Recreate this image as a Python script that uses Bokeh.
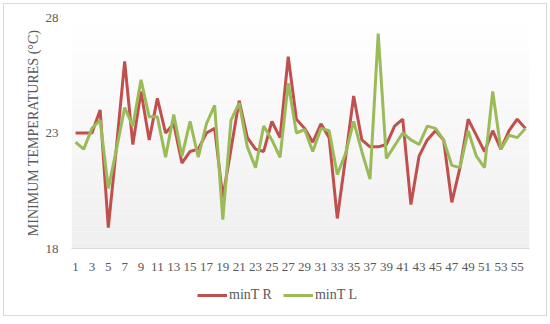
from bokeh.plotting import figure
from bokeh.layouts import column
from bokeh.models import FixedTicker, Range1d, Legend, LegendItem, ColumnDataSource
from bokeh.embed import file_html
from bokeh.resources import INLINE

days = list(range(1, 57))
min_t_r = [23.0, 23.0, 23.0, 24.0, 18.9, 22.4, 26.1, 22.5, 24.8, 22.7,
           24.5, 23.0, 23.4, 21.7, 22.2, 22.3, 23.0, 23.2, 20.2, 22.3,
           24.4, 22.8, 22.3, 22.2, 23.5, 22.8, 26.3, 23.6, 23.2, 22.6,
           23.4, 22.8, 19.3, 21.9, 24.6, 22.7, 22.4, 22.4, 22.5, 23.3,
           23.6, 19.9, 22.0, 22.7, 23.1, 22.7, 20.0, 21.5, 23.6, 22.9,
           22.2, 23.1, 22.3, 23.1, 23.6, 23.2]
min_t_l = [22.6, 22.3, 23.2, 23.55, 20.6, 22.3, 24.1, 23.3, 25.3, 23.7,
           23.7, 21.95, 23.8, 22.0, 23.5, 21.95, 23.4, 24.2, 19.25, 23.55,
           24.3, 22.4, 21.5, 23.3, 22.7, 21.95, 25.15, 23.0, 23.15, 22.2,
           23.2, 23.1, 21.2, 22.1, 23.5, 22.2, 21.0, 27.3, 21.9, 22.45,
           23.0, 22.7, 22.5, 23.3, 23.2, 22.7, 21.6, 21.5, 23.1, 22.0,
           21.5, 24.8, 22.3, 22.9, 22.8, 23.2]
x_ticks = list(range(1, 57, 2))
y_ticks = [18, 23, 28]
series_names = ["minT R", "minT L"]
series_colors = ["#C0504D", "#9BBB59"]

FONT = "Liberation Serif"
TXT = "#595959"

src = ColumnDataSource(dict(x=days, r=min_t_r, l=min_t_l))

p = figure(width=542, height=276, output_backend="svg", toolbar_location=None,
           x_range=Range1d(0.5, 56.5), y_range=Range1d(18, 28),
           min_border_left=67, min_border_right=17, min_border_top=13, min_border_bottom=32)
p.outline_line_color = None
p.background_fill_color = "white"
p.border_fill_color = "white"
p.grid.visible = False

# vertical gradient of the plot area (decoration)
n = 40
ys = [18 + 10 * k / n for k in range(n + 1)]
cols = []
for k in range(n):
    f = (k + 0.5) / n
    c = int(round(239 + (255 - 239) * f))
    cols.append("#%02x%02x%02x" % (c, c, c))
p.quad(left=0.5, right=56.5, bottom=ys[:-1], top=ys[1:], fill_color=cols, line_color=None)

p.line("x", "r", source=src, line_color=series_colors[0], line_width=3)
p.line("x", "l", source=src, line_color=series_colors[1], line_width=3)

xa = p.xaxis[0]
xa.ticker = FixedTicker(ticks=x_ticks)
xa.axis_line_color = "#d9d9d9"
xa.axis_line_width = 1
xa.major_tick_line_color = None
xa.minor_tick_line_color = None
xa.major_tick_out = 0
xa.major_tick_in = 0
xa.major_label_standoff = 14
xa.major_label_text_font = FONT
xa.major_label_text_font_size = "13px"
xa.major_label_text_color = TXT

ya = p.yaxis[0]
ya.ticker = FixedTicker(ticks=y_ticks)
ya.axis_line_color = None
ya.major_tick_line_color = None
ya.minor_tick_line_color = None
ya.major_tick_out = 0
ya.major_tick_in = 0
ya.major_label_standoff = 13
ya.major_label_text_font = FONT
ya.major_label_text_font_size = "13px"
ya.major_label_text_color = TXT
ya.axis_label = "MINIMUM TEMPERATURES (°C)"
ya.axis_label_text_font = FONT
ya.axis_label_text_font_size = "14px"
ya.axis_label_text_font_style = "normal"
ya.axis_label_text_color = TXT
ya.axis_label_standoff = 2

# legend strip below the chart (its lines lie outside its own view; only the legend shows)
lg = figure(width=542, height=35, output_backend="svg", toolbar_location=None,
            x_range=Range1d(0, 1), y_range=Range1d(0, 1),
            min_border=0, x_axis_location=None, y_axis_location=None)
lg.outline_line_color = None
lg.grid.visible = False
lg.background_fill_color = "white"
lg.border_fill_color = "white"
k1 = lg.line("x", "r", source=src, line_color=series_colors[0], line_width=3)
k2 = lg.line("x", "l", source=src, line_color=series_colors[1], line_width=3)
legend = Legend(items=[LegendItem(label=series_names[0], renderers=[k1]),
                       LegendItem(label=series_names[1], renderers=[k2])],
                orientation="horizontal", location=(126, 12),
                glyph_width=30, glyph_height=16, label_standoff=2, spacing=11,
                padding=0, margin=0, border_line_color=None,
                background_fill_alpha=0,
                label_text_font=FONT, label_text_font_size="14px",
                label_text_color=TXT)
lg.add_layout(legend)

page = column(p, lg, spacing=0, margin=(3, 3, 8, 3),
              styles={"border": "1px solid #d9d9d9", "background-color": "white"})
open("out.html", "w").write(file_html(page, INLINE))
